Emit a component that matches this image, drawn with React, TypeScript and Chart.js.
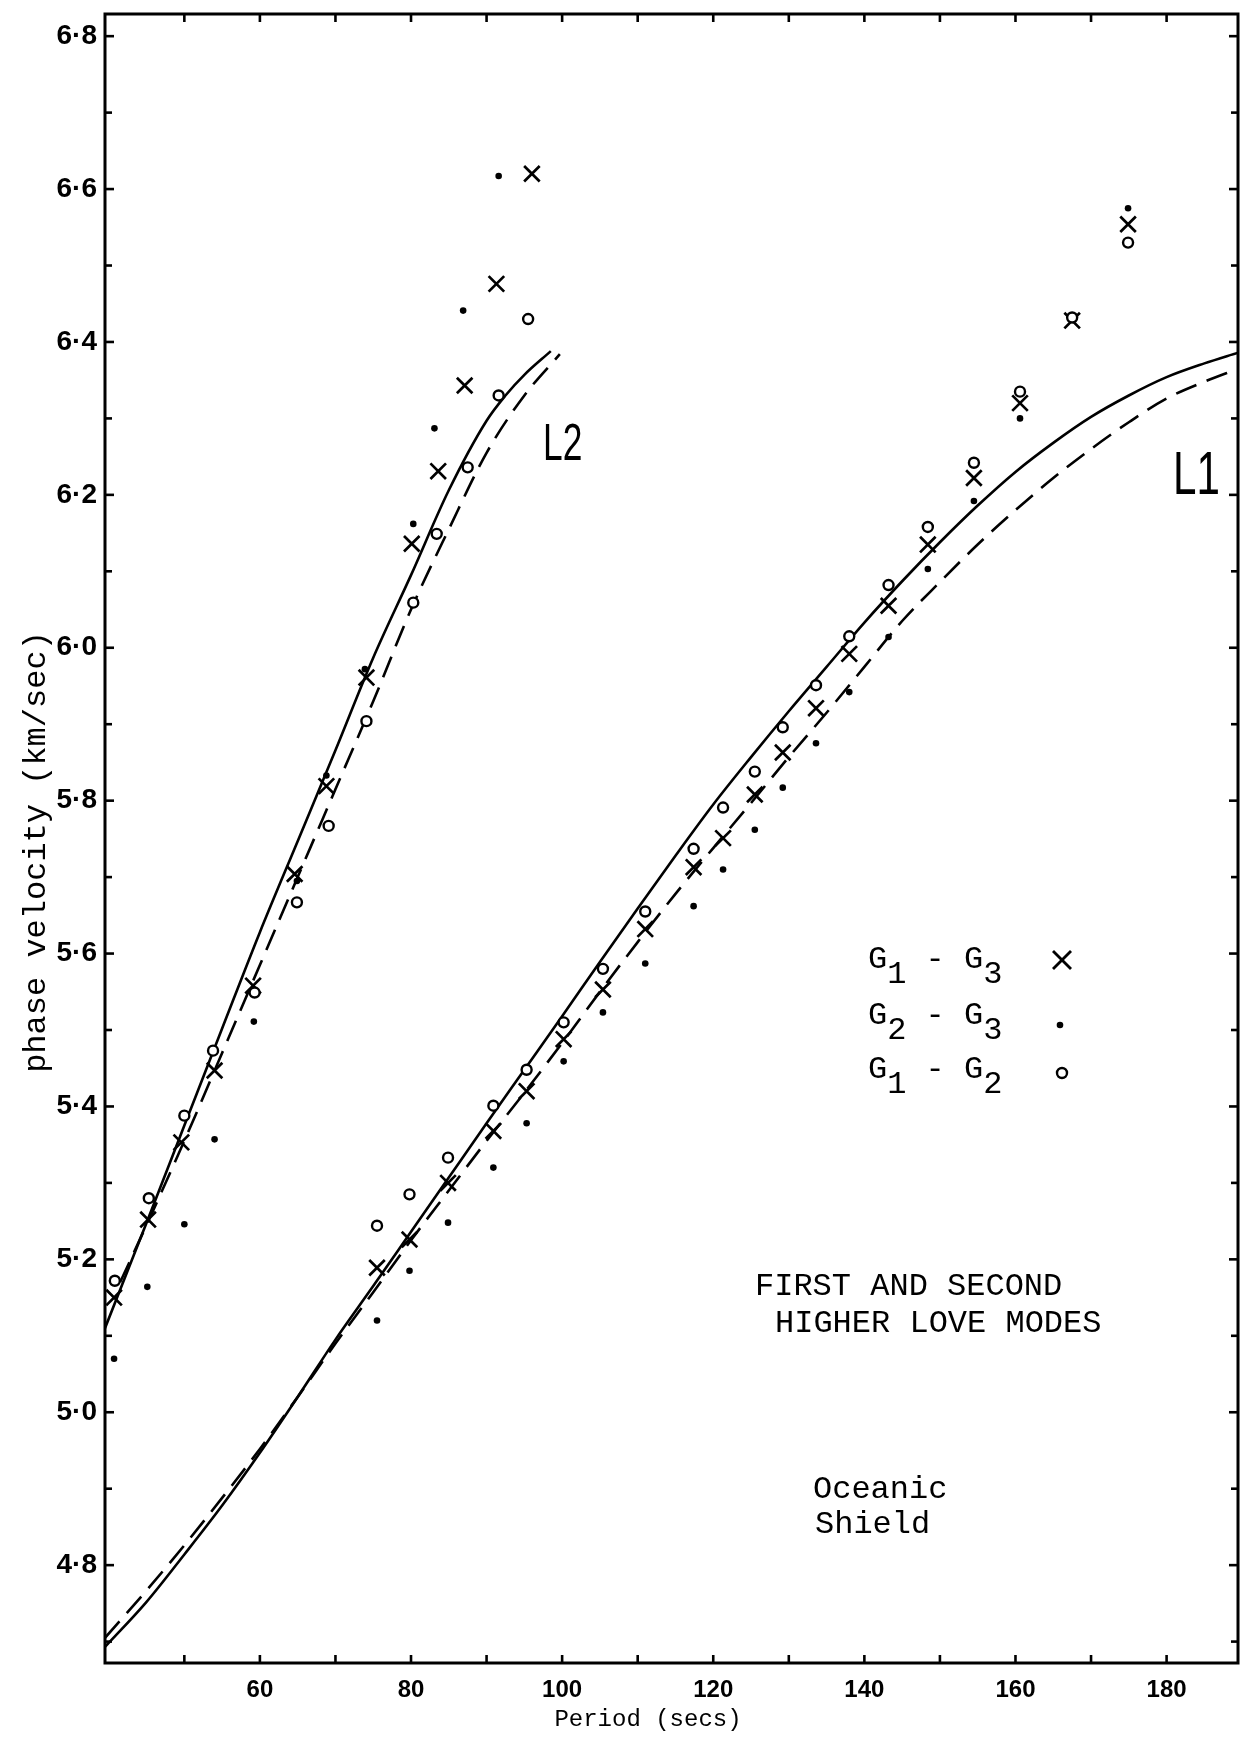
import React, { useEffect, useRef } from 'react';
import { Chart, registerables } from 'chart.js';

Chart.register(...registerables);

// ---------- axis ranges and ticks ----------
const X_MIN = 39.5;
const X_MAX = 189.45;
const Y_MIN = 4.672;
const Y_MAX = 6.829;
const X_TICK_VALUES = [50, 60, 70, 80, 90, 100, 110, 120, 130, 140, 150, 160, 170, 180];
const X_TICK_LABELS = ['', '60', '', '80', '', '100', '', '120', '', '140', '', '160', '', '180'];
const Y_TICK_VALUES = [4.7, 4.8, 4.9, 5.0, 5.1, 5.2, 5.3, 5.4, 5.5, 5.6, 5.7, 5.8, 5.9, 6.0, 6.1, 6.2, 6.3, 6.4, 6.5, 6.6, 6.7, 6.8];
const Y_TICK_LABELS = ['', '4·8', '', '5·0', '', '5·2', '', '5·4', '', '5·6', '', '5·8', '', '6·0', '', '6·2', '', '6·4', '', '6·6', '', '6·8'];

// ---------- second higher Love mode (L2) observations ----------
const L2_G1G3_PERIOD = [40.7, 45.2, 49.6, 54.0, 59.1, 64.6, 68.8, 74.1, 80.1, 83.6, 87.1, 91.3, 96.0];
const L2_G1G3_VEL = [5.150, 5.252, 5.353, 5.447, 5.558, 5.704, 5.819, 5.961, 6.136, 6.231, 6.343, 6.476, 6.620];

const L2_G2G3_PERIOD = [40.7, 45.1, 50.0, 54.0, 59.2, 64.9, 68.8, 73.9, 80.3, 83.1, 86.9, 91.6];
const L2_G2G3_VEL = [5.070, 5.164, 5.246, 5.357, 5.511, 5.695, 5.833, 5.972, 6.162, 6.287, 6.441, 6.617];

const L2_G1G2_PERIOD = [40.8, 45.3, 50.0, 53.8, 59.3, 64.9, 69.1, 74.1, 80.3, 83.4, 87.5, 91.6, 95.5];
const L2_G1G2_VEL = [5.172, 5.280, 5.388, 5.473, 5.549, 5.667, 5.767, 5.904, 6.059, 6.149, 6.236, 6.330, 6.430];

// ---------- first higher Love mode (L1) observations ----------
const L1_PERIOD = [75.5, 79.8, 84.9, 90.9, 95.3, 100.2, 105.4, 111.0, 117.4, 121.3, 125.5, 129.2, 133.6, 138.0, 143.2, 148.4, 154.5, 160.6, 167.5, 174.9];
const L1_G1G3_VEL = [5.189, 5.226, 5.300, 5.368, 5.420, 5.488, 5.553, 5.632, 5.713, 5.751, 5.808, 5.863, 5.921, 5.992, 6.055, 6.135, 6.222, 6.320, 6.428, 6.554];
const L1_G2G3_VEL = [5.120, 5.185, 5.248, 5.320, 5.378, 5.459, 5.523, 5.587, 5.662, 5.710, 5.762, 5.817, 5.875, 5.942, 6.014, 6.103, 6.192, 6.300, 6.430, 6.575];
const L1_G1G2_VEL = [5.244, 5.285, 5.333, 5.401, 5.448, 5.510, 5.580, 5.655, 5.737, 5.791, 5.838, 5.896, 5.951, 6.015, 6.082, 6.158, 6.242, 6.335, 6.432, 6.530];

// ---------- theoretical curves ----------
const L2_SOLID_PERIOD = [39.5, 45, 50, 55, 60, 65, 70, 75, 80, 85, 90, 92.5, 95, 98.5];
const L2_SOLID_VEL = [5.110, 5.248, 5.375, 5.502, 5.628, 5.747, 5.866, 5.987, 6.095, 6.206, 6.297, 6.330, 6.357, 6.388];

const L2_DASH_PERIOD = [41.5, 45, 50, 55, 60, 65, 70, 75, 80, 85, 90, 95, 99.7];
const L2_DASH_VEL = [5.170, 5.245, 5.355, 5.470, 5.585, 5.700, 5.815, 5.930, 6.050, 6.155, 6.255, 6.330, 6.384];

const L1_CURVE_PERIOD = [39.5, 45, 50, 55, 60, 65, 70, 75, 80, 85, 90, 95, 100, 105, 110, 115, 120, 125, 130, 135, 140, 145, 150, 155, 160, 165, 170, 175, 180, 185, 189.45];
const L1_SOLID_VEL = [4.693, 4.752, 4.814, 4.878, 4.947, 5.020, 5.095, 5.165, 5.236, 5.307, 5.378, 5.448, 5.518, 5.589, 5.659, 5.728, 5.795, 5.857, 5.917, 5.975, 6.033, 6.087, 6.138, 6.186, 6.230, 6.268, 6.302, 6.330, 6.354, 6.372, 6.386];
const L1_DASH_VEL = [4.705, 4.767, 4.826, 4.888, 4.952, 5.020, 5.090, 5.157, 5.225, 5.290, 5.355, 5.418, 5.483, 5.550, 5.615, 5.678, 5.738, 5.797, 5.857, 5.915, 5.975, 6.035, 6.086, 6.135, 6.180, 6.222, 6.260, 6.295, 6.326, 6.348, 6.365];

// ---------- texts ----------
const LEGEND_ROWS = [
  { a: '1', b: '3', marker: 'cross' },
  { a: '2', b: '3', marker: 'dot' },
  { a: '1', b: '2', marker: 'ring' },
];
const CAPTION_LINES = ['FIRST AND SECOND', 'HIGHER LOVE MODES'];
const MODEL_LINES = ['Oceanic', 'Shield'];
const Y_TITLE = 'phase velocity (km/sec)';
const X_TITLE = 'Period (secs)';

const pts = (xs: number[], ys: number[]) => xs.map((x, i) => ({ x, y: ys[i] }));

const MONO = '"Liberation Mono", "DejaVu Sans Mono", monospace';
const HAND = '"Liberation Sans", "DejaVu Sans", sans-serif';

const decorations = {
  id: 'decorations',
  afterDraw(chart: any) {
    const { ctx, chartArea: a, scales } = chart;
    const xs = scales.x;
    const ys = scales.y;
    const line = (x1: number, y1: number, x2: number, y2: number) => {
      ctx.beginPath();
      ctx.moveTo(x1, y1);
      ctx.lineTo(x2, y2);
      ctx.stroke();
    };
    ctx.save();
    ctx.strokeStyle = '#000';
    ctx.fillStyle = '#000';
    ctx.lineCap = 'butt';
    // frame
    ctx.lineWidth = 3;
    ctx.strokeRect(a.left, a.top, a.right - a.left, a.bottom - a.top);
    // inward tick marks on all four sides
    ctx.lineWidth = 2.6;
    ys.ticks.forEach((t: any) => {
      const y = ys.getPixelForValue(t.value);
      if (y < a.top + 4 || y > a.bottom - 4) return;
      const major = Math.round(t.value * 10) % 2 === 0;
      const len = major ? 9 : 7;
      line(a.left, y, a.left + len, y);
      line(a.right - len, y, a.right, y);
    });
    xs.ticks.forEach((t: any) => {
      const x = xs.getPixelForValue(t.value);
      if (x < a.left + 6 || x > a.right - 4) return;
      line(x, a.bottom, x, a.bottom - 8);
      line(x, a.top, x, a.top + 8);
    });

    // curve labels (hand-lettered, narrow)
    ctx.textBaseline = 'alphabetic';
    ctx.textAlign = 'left';
    ctx.save();
    ctx.translate(543, 460);
    ctx.scale(0.68, 1);
    ctx.font = `52px ${HAND}`;
    ctx.fillText('L2', 0, 0);
    ctx.restore();
    ctx.save();
    ctx.translate(1173, 494);
    ctx.scale(0.68, 1);
    ctx.font = `62px ${HAND}`;
    ctx.fillText('L1', 0, 0);
    ctx.restore();

    // legend
    ctx.font = `32px ${MONO}`;
    const pitch = ctx.measureText('G').width;
    const gx = 868;
    const baselines = [968, 1024, 1078];
    LEGEND_ROWS.forEach((r, i) => {
      const b = baselines[i];
      ctx.fillText('G', gx, b);
      ctx.fillText(r.a, gx + pitch, b + 15);
      ctx.fillText('-', gx + pitch * 3, b);
      ctx.fillText('G', gx + pitch * 5, b);
      ctx.fillText(r.b, gx + pitch * 6, b + 15);
      const mx = 1062;
      const my = b - 8;
      if (r.marker === 'cross') {
        ctx.lineWidth = 2.8;
        line(mx - 9, my - 9, mx + 9, my + 9);
        line(mx - 9, my + 9, mx + 9, my - 9);
      } else if (r.marker === 'dot') {
        ctx.beginPath();
        ctx.arc(mx - 2, b + 1, 3.3, 0, Math.PI * 2);
        ctx.fill();
      } else {
        ctx.lineWidth = 2.4;
        ctx.beginPath();
        ctx.arc(mx, b - 5, 5, 0, Math.PI * 2);
        ctx.stroke();
      }
    });

    // captions
    ctx.font = `32px ${MONO}`;
    ctx.fillText(CAPTION_LINES[0], 755, 1295);
    ctx.fillText(CAPTION_LINES[1], 775, 1332);
    ctx.fillText(MODEL_LINES[0], 813, 1498);
    ctx.fillText(MODEL_LINES[1], 815, 1533);

    // axis titles
    ctx.save();
    ctx.translate(37, 852);
    ctx.rotate(-Math.PI / 2);
    ctx.textAlign = 'center';
    ctx.textBaseline = 'middle';
    ctx.font = `32px ${MONO}`;
    ctx.fillText(Y_TITLE, 0, 0);
    ctx.restore();

    ctx.font = `24px ${MONO}`;
    ctx.textAlign = 'center';
    ctx.fillText(X_TITLE, 648, 1726);
    ctx.restore();
  },
};

export default function App() {
  const ref = useRef<HTMLCanvasElement>(null);
  useEffect(() => {
    if (!ref.current) return;
    const cross = {
      pointStyle: 'crossRot',
      pointRadius: 11,
      pointBorderWidth: 2.7,
      pointBorderColor: '#000',
      pointBackgroundColor: '#000',
      showLine: false,
    };
    const dot = {
      pointStyle: 'circle',
      pointRadius: 3.3,
      pointBorderWidth: 0,
      pointBorderColor: '#000',
      pointBackgroundColor: '#000',
      showLine: false,
    };
    const ring = {
      pointStyle: 'circle',
      pointRadius: 5,
      pointBorderWidth: 2.4,
      pointBorderColor: '#000',
      pointBackgroundColor: '#fff',
      showLine: false,
    };
    const curve = (dash: number[]) => ({
      showLine: true,
      pointRadius: 0,
      borderColor: '#000',
      borderWidth: 2.6,
      borderDash: dash,
      tension: 0.4,
      cubicInterpolationMode: 'monotone',
      fill: false,
    });
    const zeroPad = (s: any) => {
      s.paddingTop = 0;
      s.paddingBottom = 0;
      s.paddingLeft = 0;
      s.paddingRight = 0;
    };
    const chart = new Chart(ref.current, {
      type: 'scatter',
      data: {
        datasets: [
          { label: 'G1 - G2', data: [...pts(L2_G1G2_PERIOD, L2_G1G2_VEL), ...pts(L1_PERIOD, L1_G1G2_VEL)], ...ring },
          { label: 'G1 - G3', data: [...pts(L2_G1G3_PERIOD, L2_G1G3_VEL), ...pts(L1_PERIOD, L1_G1G3_VEL)], ...cross },
          { label: 'G2 - G3', data: [...pts(L2_G2G3_PERIOD, L2_G2G3_VEL), ...pts(L1_PERIOD, L1_G2G3_VEL)], ...dot },
          { label: 'L2', data: pts(L2_SOLID_PERIOD, L2_SOLID_VEL), ...curve([]) },
          { label: 'L2 dashed', data: pts(L2_DASH_PERIOD, L2_DASH_VEL), ...curve([22, 11]) },
          { label: 'L1', data: pts(L1_CURVE_PERIOD, L1_SOLID_VEL), ...curve([]) },
          { label: 'L1 dashed', data: pts(L1_CURVE_PERIOD, L1_DASH_VEL), ...curve([22, 11]) },
        ] as any,
      },
      options: {
        responsive: false,
        maintainAspectRatio: false,
        animation: false,
        devicePixelRatio: 1,
        layout: { autoPadding: false, padding: { top: 14, right: 5, left: 0, bottom: 0 } },
        plugins: { legend: { display: false }, tooltip: { enabled: false }, title: { display: false } },
        scales: {
          x: {
            type: 'linear',
            min: X_MIN,
            max: X_MAX,
            grid: { display: false, drawTicks: false },
            border: { display: false },
            afterBuildTicks: (s: any) => { s.ticks = X_TICK_VALUES.map((v) => ({ value: v })); },
            afterFit: (s: any) => { s.height = 74; zeroPad(s); },
            ticks: {
              autoSkip: false,
              maxRotation: 0,
              minRotation: 0,
              padding: 13,
              color: '#000',
              font: { family: HAND, size: 24, weight: 'bold' },
              callback: (_v: any, i: number) => X_TICK_LABELS[i] ?? '',
            },
          },
          y: {
            type: 'linear',
            min: Y_MIN,
            max: Y_MAX,
            grid: { display: false, drawTicks: false },
            border: { display: false },
            afterBuildTicks: (s: any) => { s.ticks = Y_TICK_VALUES.map((v) => ({ value: v })); },
            afterFit: (s: any) => { s.width = 105; zeroPad(s); },
            ticks: {
              autoSkip: false,
              padding: 8,
              color: '#000',
              font: { family: HAND, size: 28, weight: 'bold' },
              callback: (_v: any, i: number) => Y_TICK_LABELS[i] ?? '',
            },
          },
        },
      } as any,
      plugins: [decorations],
    });
    return () => chart.destroy();
  }, []);
  return (
    <div style={{ position: 'absolute', left: 0, top: 0, width: 1243, height: 1737, background: '#fff' }}>
      <canvas ref={ref} width={1243} height={1737} style={{ display: 'block' }} />
    </div>
  );
}
